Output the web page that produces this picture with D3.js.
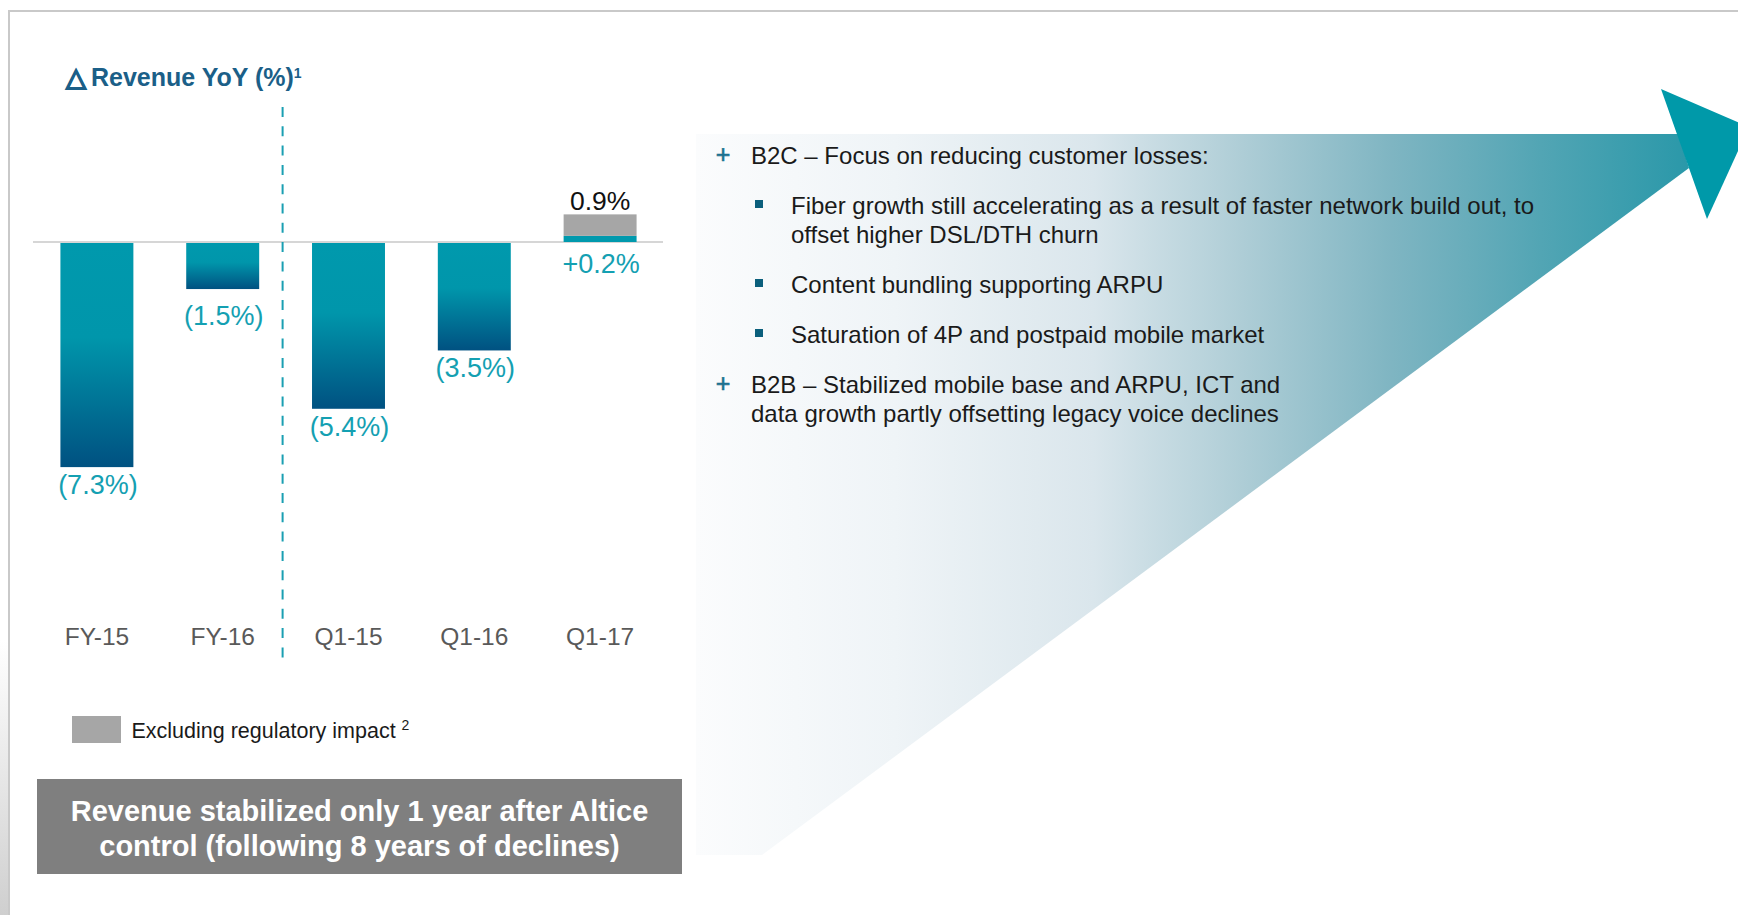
<!DOCTYPE html>
<html>
<head>
<meta charset="utf-8">
<script src="https://cdnjs.cloudflare.com/ajax/libs/d3/7.8.5/d3.min.js"></script>
<style>
	body { margin: 0; background: #fff; }
	svg { display: block; font-family: "Liberation Sans", Arial, sans-serif; }
</style>
</head>
<body>
<div id="slide"></div>
<script>
// chart values
var categories = [ "FY-15", "FY-16", "Q1-15", "Q1-16", "Q1-17" ];
var reported = [ -7.3, -1.5, -5.4, -3.5, 0.2 ];
var exRegulatory = [ null, null, null, null, 0.9 ];

// texts
var titleText = "Revenue YoY (%)";
var legendText = "Excluding regulatory impact";
var bannerLines = [ "Revenue stabilized only 1 year after Altice", "control (following 8 years of declines)" ];
var bulletItems = [
	{ level: 1, lines: [ "B2C \u2013 Focus on reducing customer losses:" ] },
	{ level: 2, lines: [ "Fiber growth still accelerating as a result of faster network build out, to", "offset higher DSL/DTH churn" ] },
	{ level: 2, lines: [ "Content bundling supporting ARPU" ] },
	{ level: 2, lines: [ "Saturation of 4P and postpaid mobile market" ] },
	{ level: 1, lines: [ "B2B \u2013 Stabilized mobile base and ARPU, ICT and", "data growth partly offsetting legacy voice declines" ] }
];

var W = 1738,
	H = 915;

var teal = "#0099ad",
	labelTeal = "#14a0b2",
	darkBlue = "#005181";

var data = categories.map( function( c, i ) {
	return { name: c, reported: reported[ i ], ex: exRegulatory[ i ] };
} );

var svg = d3.select( "#slide" )
	.append( "svg" )
	.attr( "width", W )
	.attr( "height", H );

var defs = svg.append( "defs" );

// bar gradient, teal at top to dark blue at the bottom
var bg = defs.append( "linearGradient" )
	.attr( "id", "barGrad" )
	.attr( "x1", 0 ).attr( "y1", 0 ).attr( "x2", 0 ).attr( "y2", 1 );
bg.append( "stop" ).attr( "offset", 0 ).attr( "stop-color", teal );
bg.append( "stop" ).attr( "offset", 0.42 ).attr( "stop-color", "#0096ab" );
bg.append( "stop" ).attr( "offset", 1 ).attr( "stop-color", darkBlue );

// gradient of the big arrow body
var ag = defs.append( "linearGradient" )
	.attr( "id", "arrowGrad" )
	.attr( "gradientUnits", "userSpaceOnUse" )
	.attr( "x1", 696 ).attr( "y1", 0 ).attr( "x2", 1690 ).attr( "y2", 0 );
[ [ 0, "#fbfcfd" ], [ 0.2, "#eff4f7" ], [ 0.4, "#dae6ec" ], [ 0.55, "#aecdd6" ],
	[ 0.7, "#7fb5c2" ], [ 0.85, "#52a5b4" ], [ 1, "#2a98a9" ] ].forEach( function( s ) {
	ag.append( "stop" ).attr( "offset", s[ 0 ] ).attr( "stop-color", s[ 1 ] );
} );

var sg = defs.append( "linearGradient" )
	.attr( "id", "edgeGrad" )
	.attr( "x1", 0 ).attr( "y1", 0 ).attr( "x2", 0 ).attr( "y2", 1 );
sg.append( "stop" ).attr( "offset", 0 ).attr( "stop-color", "#ffffff" );
sg.append( "stop" ).attr( "offset", 1 ).attr( "stop-color", "#cfcfcf" );

// slide frame
svg.append( "rect" )
	.attr( "x", 0 ).attr( "y", 640 ).attr( "width", 8 ).attr( "height", H - 640 )
	.style( "fill", "url(#edgeGrad)" );
svg.append( "path" )
	.attr( "d", "M9," + H + "V11H" + W )
	.style( "fill", "none" )
	.style( "stroke", "#c9c9c9" )
	.style( "stroke-width", 2 );

// ---------- right panel: arrow ----------
svg.append( "polygon" )
	.attr( "points", "696,134 1679,134 1689,168 762,855 696,855" )
	.style( "fill", "url(#arrowGrad)" );
svg.append( "polygon" )
	.attr( "points", "1661,89 1749,127 1707,219" )
	.style( "fill", "#0099a9" );

var txt = svg.append( "g" ).attr( "class", "bullets" );
var yPos = 164;
bulletItems.forEach( function( b, i ) {
	if( i > 0 ) yPos += 50;
	if( b.level === 1 ) {
		txt.append( "text" )
			.attr( "x", 723 ).attr( "y", yPos - 1 )
			.attr( "text-anchor", "middle" )
			.style( "font-size", "25px" )
			.style( "fill", "#1d7190" )
			.style( "stroke", "#1d7190" )
			.style( "stroke-width", 0.6 )
			.text( "+" );
	} else {
		txt.append( "rect" )
			.attr( "x", 755 ).attr( "y", yPos - 14 )
			.attr( "width", 8 ).attr( "height", 8 )
			.style( "fill", "#0b5f7c" );
	}
	b.lines.forEach( function( line, j ) {
		if( j > 0 ) yPos += 29;
		txt.append( "text" )
			.attr( "x", b.level === 1 ? 751 : 791 )
			.attr( "y", yPos )
			.style( "font-size", "24px" )
			.style( "fill", "#1a1a1a" )
			.text( line );
	} );
} );

// ---------- left panel: bar chart ----------
var x = d3.scaleBand()
	.domain( categories )
	.range( [ 34, 663 ] )
	.paddingInner( 0.42 )
	.paddingOuter( 0.21 );

var y = d3.scaleLinear()
	.domain( [ -10, 1 ] )
	.range( [ 549, 211.3 ] );

// title
var title = svg.append( "text" )
	.attr( "y", 86 )
	.style( "font-weight", "bold" )
	.style( "fill", "#1b5f88" );
title.append( "tspan" )
	.attr( "x", 66 )
	.style( "font-size", "26px" )
	.style( "stroke", "#1b5f88" )
	.style( "stroke-width", 0.8 )
	.text( "\u25b3" );
title.append( "tspan" )
	.attr( "x", 91 )
	.style( "font-size", "25px" )
	.style( "stroke", "none" )
	.text( titleText );
title.append( "tspan" )
	.attr( "dy", -8 )
	.style( "font-size", "14px" )
	.text( "1" );

// zero line
svg.append( "line" )
	.attr( "x1", 33 ).attr( "x2", 663 )
	.attr( "y1", y( 0 ) ).attr( "y2", y( 0 ) )
	.style( "stroke", "#d6d6d6" )
	.style( "stroke-width", 2 );

// separator between full years and quarters
var sepX = ( x( "FY-16" ) + x.bandwidth() + x( "Q1-15" ) ) / 2 - 3;
svg.append( "line" )
	.attr( "x1", sepX ).attr( "x2", sepX )
	.attr( "y1", 107 ).attr( "y2", 658 )
	.style( "stroke", "#1a9fb2" )
	.style( "stroke-width", 2 )
	.style( "stroke-dasharray", "10,9.3" );

var g0 = svg.append( "g" ).attr( "class", "bars" );

// reported bars
g0.selectAll( ".bar" )
	.data( data )
	.enter()
	.append( "rect" )
	.attr( "class", "bar" )
	.attr( "x", function( d ) { return x( d.name ); } )
	.attr( "y", function( d ) { return Math.min( y( 0 ), y( d.reported ) ) + ( d.reported < 0 ? 1 : 0 ); } )
	.attr( "width", x.bandwidth() )
	.attr( "height", function( d ) { return Math.abs( y( d.reported ) - y( 0 ) ); } )
	.style( "fill", function( d ) { return d.reported < 0 ? "url(#barGrad)" : teal; } );

// excluding regulatory impact, stacked on top of reported
var exData = data.filter( function( d ) { return d.ex !== null; } );
g0.selectAll( ".exbar" )
	.data( exData )
	.enter()
	.append( "rect" )
	.attr( "class", "exbar" )
	.attr( "x", function( d ) { return x( d.name ); } )
	.attr( "y", function( d ) { return y( d.ex ); } )
	.attr( "width", x.bandwidth() )
	.attr( "height", function( d ) { return y( d.reported ) - y( d.ex ); } )
	.style( "fill", "#a6a6a6" );

// value labels
var labelNudge = { "FY-16": 9 };
g0.selectAll( ".val" )
	.data( data )
	.enter()
	.append( "text" )
	.attr( "class", "val" )
	.attr( "x", function( d ) { return x( d.name ) + x.bandwidth() / 2 + 1; } )
	.attr( "y", function( d ) {
		if( d.reported < 0 ) return y( d.reported ) + 28 + ( labelNudge[ d.name ] || 0 );
		return y( 0 ) + 30.5;
	} )
	.attr( "text-anchor", "middle" )
	.style( "font-size", "27px" )
	.style( "fill", labelTeal )
	.text( function( d ) {
		return d.reported < 0 ? "(" + Math.abs( d.reported ).toFixed( 1 ) + "%)" : "+" + d.reported.toFixed( 1 ) + "%";
	} );

g0.selectAll( ".exval" )
	.data( exData )
	.enter()
	.append( "text" )
	.attr( "class", "exval" )
	.attr( "x", function( d ) { return x( d.name ) + x.bandwidth() / 2; } )
	.attr( "y", function( d ) { return y( d.ex ) - 4; } )
	.attr( "text-anchor", "middle" )
	.style( "font-size", "26.5px" )
	.style( "fill", "#111" )
	.text( function( d ) { return d.ex.toFixed( 1 ) + "%"; } );

// category axis
var xAxis = d3.axisBottom( x ).tickSize( 0 ).tickPadding( 0 );
var ax = svg.append( "g" )
	.attr( "class", "x axis" )
	.attr( "transform", "translate(0,628)" )
	.call( xAxis );
ax.select( ".domain" ).remove();
ax.selectAll( "text" )
	.style( "font-size", "24.5px" )
	.style( "fill", "#595959" );
ax.attr( "font-family", null ).attr( "font-size", null );

// legend
svg.append( "rect" )
	.attr( "x", 72 ).attr( "y", 716 )
	.attr( "width", 49 ).attr( "height", 27 )
	.style( "fill", "#a6a6a6" );
var leg = svg.append( "text" )
	.attr( "x", 131.5 ).attr( "y", 738 )
	.style( "font-size", "21.5px" )
	.style( "fill", "#1a1a1a" );
leg.append( "tspan" ).text( legendText + " " );
leg.append( "tspan" )
	.attr( "dy", -8 )
	.style( "font-size", "14px" )
	.text( "2" );

// conclusion banner
svg.append( "rect" )
	.attr( "x", 37 ).attr( "y", 779 )
	.attr( "width", 645 ).attr( "height", 95 )
	.style( "fill", "#7f7f7f" );
svg.selectAll( ".banner" )
	.data( bannerLines )
	.enter()
	.append( "text" )
	.attr( "class", "banner" )
	.attr( "x", 359.5 )
	.attr( "y", function( d, i ) { return 821 + i * 35; } )
	.attr( "text-anchor", "middle" )
	.style( "font-size", "29px" )
	.style( "font-weight", "bold" )
	.style( "fill", "#fff" )
	.text( function( d ) { return d; } );
</script>
</body>
</html>
